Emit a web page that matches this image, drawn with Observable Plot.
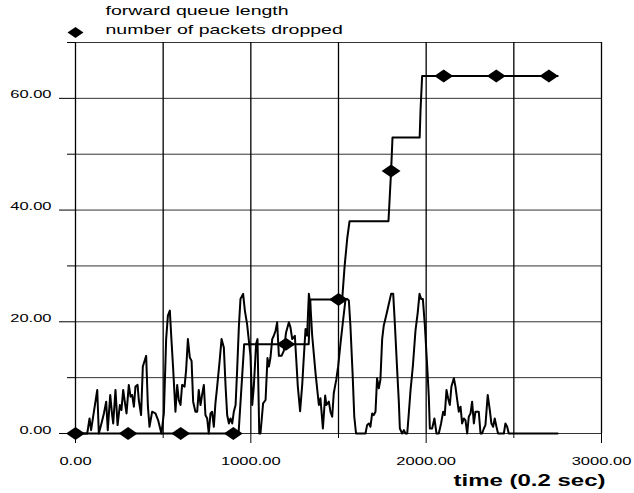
<!DOCTYPE html>
<html><head><meta charset="utf-8">
<script src="https://cdn.jsdelivr.net/npm/d3@7"></script>
<script src="https://cdn.jsdelivr.net/npm/@observablehq/plot@0.6"></script>
<style>body{margin:0;background:#fff}</style>
</head><body><div id="chart"></div>
<script>
// forward queue length (time in 0.2 s units, length in packets)
const queueTime = [
  0,57,67,80,89,105,124,133,148,162,175,184,198,209,215,228,240,253,262,272,
  281,291,304,314,323,333,342,354,361,374,384,403,413,422,437,456,471,490,504,517,
  527,538,547,557,570,580,589,599,608,622,631,641,652,662,671,684,694,703,713,722,
  732,741,751,760,770,779,789,798,808,823,833,846,856,865,875,884,894,903,913,922,
  932,941,956,966,979,998,1008,1017,1030,1038,1048,1055,1070,1084,1095,1103,1112,1122,1131,1141,
  1150,1160,1175,1188,1201,1217,1226,1236,1251,1259,1268,1281,1293,1302,1312,1321,1331,1340,1350,1369,
  1388,1397,1411,1424,1431,1445,1454,1464,1473,1487,1498,1511,1527,1540,1549,1559,1568,1580,1590,1600,
  1625,1654,1663,1673,1682,1692,1701,1711,1720,1730,1739,1749,1758,1774,1787,1800,1812,1821,1835,1844,
  1850,1863,1873,1882,1892,1901,1911,1924,1939,1952,1962,1971,1981,1992,2006,2015,2021,2034,2047,2059,
  2072,2085,2097,2106,2116,2125,2135,2144,2158,2167,2177,2186,2196,2205,2215,2224,2234,2243,2253,2262,
  2272,2281,2291,2300,2310,2319,2329,2338,2351,2363,2372,2382,2391,2401,2410,2443,2452,2462,2471,2750
];
const queueLength = [
  0,0,0,2.7,0.6,3.9,7.8,0,1.8,3.6,5.7,0.6,6.9,3.3,1.8,7.8,1.5,5.1,4.2,7.8,
  5.7,3.6,8.7,6.6,6.9,4.8,8.4,8.7,6,3.3,12,13.9,4.8,1.2,3.9,3.6,2.4,0,3.6,16.9,
  21.1,22,16.9,11.6,3.9,8.7,6,5.1,8.7,8.4,11.4,16.9,13.6,13,5.7,3.9,3.9,7.8,5.1,6.9,
  8.7,3.3,2.7,0,3.6,3.9,1.2,5.4,8.4,13.3,16.9,15.4,8.4,3.3,1.8,2.7,1.8,3.9,5.1,11.4,
  19.3,24.1,25,22,19.5,13.9,5.1,8.4,16,16.9,0,0,5.4,6,13.5,12,13.6,16.9,17.5,18.4,
  19.9,13.9,13.9,14.8,18.1,19.9,19,16.9,17.5,13.3,8.4,4,8.7,13.6,18.7,17.5,25,22.9,17.5,10.8,
  5.1,6.3,0.9,6.8,5.1,5.7,3.9,3,7.2,9.6,12,16,20.5,24,24.1,23.8,19.3,11,3,0,
  0,0,1.5,1.8,1.2,3.6,3.3,3.9,9.9,8.1,9.6,16.9,19.3,21.4,23.2,25,25,19.9,11.1,5.7,
  0.9,0,0.6,0,0,3.6,7.8,12,18.4,21.7,25,24.1,24.1,19.6,12,6.6,0.9,0.9,2.7,0,
  0,1.8,3.9,3.3,7.8,6.3,5.1,8.4,9.9,8.4,6,3.9,4.8,1.8,2.7,2.4,0,3,3.6,5.7,
  1.8,3.9,3.9,3.9,0,0,0.9,1.5,6.9,4.2,1.8,1.2,2.7,1.2,0,0,1.8,1.2,0,0
];
// number of packets dropped (cumulative step line)
const dropTime  = [0, 930, 962, 1330, 1340, 1521, 1535, 1550, 1563, 1785, 1800, 1808, 1963, 1968, 1977, 2750];
const dropCount = [0, 0,   16,  16,   24,   24,   30,   35,   38,   38,   47,   53,   53,   58,   64,   64];
// diamond markers on the dropped-packets series
const markerTime  = [0, 300, 600, 900, 1200, 1500, 1800, 2100, 2400, 2700];
const markerCount = [0, 0,   0,   0,   16,   24,   47,   64,   64,   64];

const xMajorTicks = [0, 1000, 2000, 3000];
const xMinorTicks = [500, 1500, 2500];
const yMajorTicks = [0, 20, 40, 60];
const yMinorTicks = [10, 30, 50, 70];
const xGrid = [0, 500, 1000, 1500, 2000, 2500, 3000];
const yGrid = [0, 10, 20, 30, 40, 50, 60, 70];
const legendLabels = ["forward queue length", "number of packets dropped"];
const xAxisTitle = "time (0.2 sec)";

const queue = queueTime.map((t, i) => ({t, v: queueLength[i]}));
const dropped = dropTime.map((t, i) => ({t, v: dropCount[i]}));
const markers = markerTime.map((t, i) => ({t, v: markerCount[i]}));

// wide diamond marker
const wideDiamond = {
  draw(ctx, size) {
    const r = Math.sqrt(size / Math.PI);
    const w = r * 1.45, h = r;
    ctx.moveTo(0, -h); ctx.lineTo(w, 0); ctx.lineTo(0, h); ctx.lineTo(-w, 0); ctx.closePath();
  }
};
const fmt = d3.format(".2f");

const chart = Plot.plot({
  width: 634, height: 493,
  marginLeft: 75, marginRight: 33, marginTop: 42, marginBottom: 60,
  x: {domain: [0, 3000]},
  y: {domain: [0, 70]},
  style: {fontFamily: "'Liberation Sans', Arial, sans-serif", fontSize: "11px", color: "#000", background: "#fff"},
  marks: [
    Plot.ruleY(yGrid, {stroke: "#333", strokeWidth: 1}),
    Plot.ruleX(xGrid, {stroke: "#000", strokeWidth: 1.3}),
    Plot.axisY({ticks: yMajorTicks, tickSize: 16, tickPadding: 8, tickFormat: fmt, label: null}),
    Plot.axisY({ticks: yMinorTicks, tickSize: 8, tickFormat: () => "", label: null}),
    Plot.axisX({ticks: xMajorTicks, tickSize: 10, tickPadding: 21, tickFormat: fmt, label: null}),
    Plot.axisX({ticks: xMinorTicks, tickSize: 5, tickFormat: () => "", label: null}),
    Plot.line(queue, {x: "t", y: "v", stroke: "#000", strokeWidth: 2, strokeLinejoin: "round"}),
    Plot.line(dropped, {x: "t", y: "v", stroke: "#000", strokeWidth: 2}),
    Plot.dot(markers, {x: "t", y: "v", symbol: wideDiamond, r: 6.5, fill: "#000"}),
    Plot.text([xAxisTitle], {text: d => d, frameAnchor: "bottom-right", textAnchor: "end", dx: 4, dy: 52, fontWeight: "bold", fontSize: 16}),
    Plot.text([legendLabels[0]], {text: d => d, frameAnchor: "top-left", textAnchor: "start", dx: 30, dy: -28, fontSize: 13}),
    Plot.text([legendLabels[1]], {text: d => d, frameAnchor: "top-left", textAnchor: "start", dx: 30, dy: -9, fontSize: 13}),
    Plot.dot([legendLabels[1]], {frameAnchor: "top-left", dy: -10, symbol: wideDiamond, r: 5.5, fill: "#000"})
  ]
});

// horizontally stretch all text as in the reference
chart.querySelectorAll("text").forEach(t => {
  let tr = t.getAttribute("transform") || "";
  const x = t.getAttribute("x"), y = t.getAttribute("y");
  if (x !== null || y !== null) {
    tr += ` translate(${+x || 0},${+y || 0})`;
    t.removeAttribute("x"); t.removeAttribute("y");
  }
  t.setAttribute("transform", tr + " scale(1.5,1)");
});
document.getElementById("chart").appendChild(chart);
</script>
</body></html>
